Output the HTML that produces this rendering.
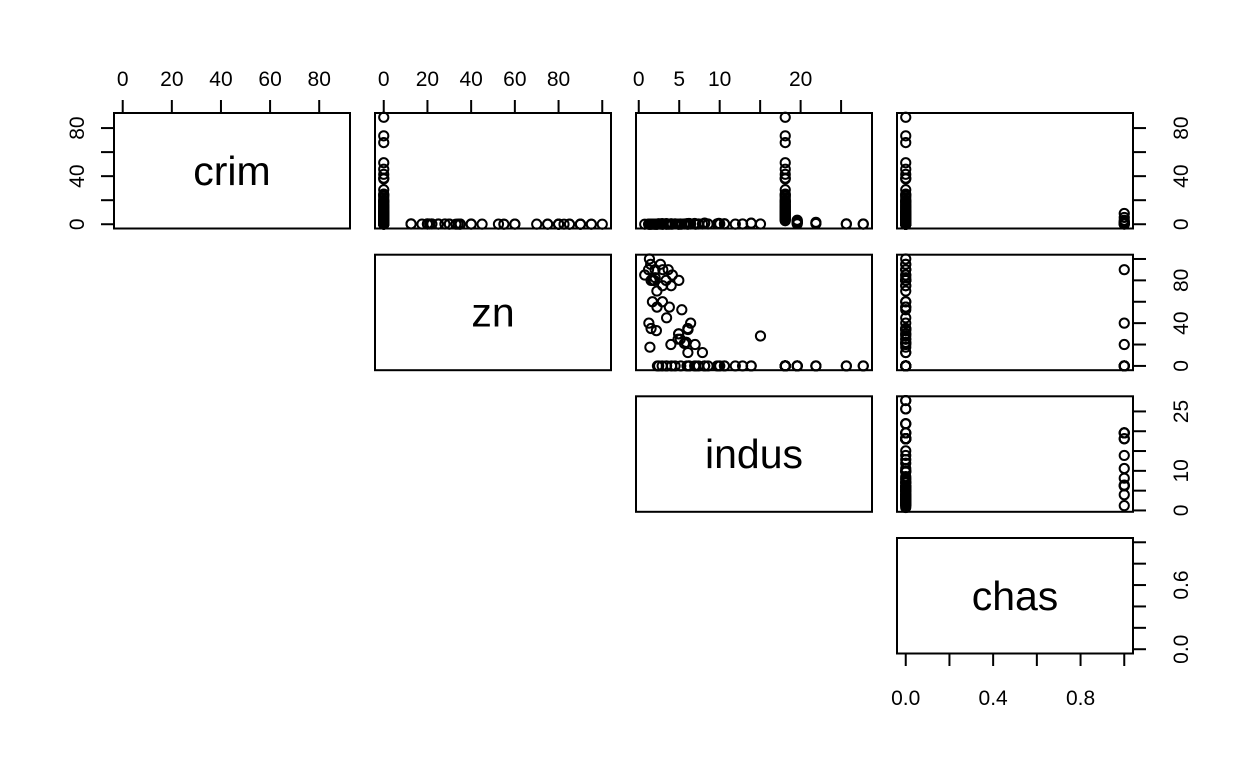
<!DOCTYPE html>
<html><head><meta charset="utf-8"><style>
html,body{margin:0;padding:0;background:#fff;}
svg{display:block;font-family:"Liberation Sans",Arial,sans-serif;}
</style></head><body>
<svg id="chart" width="1248" height="768" xmlns="http://www.w3.org/2000/svg"></svg>
<script>
const varNames = ["crim","zn","indus","chas"];
const crim = [0.01,0.02,0.03,0.04,0.02,0.01,0.06,0.03,0.05,0.02,0.04,0.08,0.09,0.04,0.06,0.13,0.1,0.05,0.03,0.08,0.07,0.04,0.08,0.06,0.1,0.05,0.15,0.19,0.18,0.12,0.25,0.2,0.11,0.14,0.21,0.33,0.03,0.02,0.17,0.1,
0.4,0.5,0.3,0.1,0.6,0.9,0.2,0.7,0.3,0.4,0.1,0.2,0.8,0.5,0.05,0.03,0.2,0.3,0.6,0.4,0.3,0.2,2.9,1.8,1.4,0.9,1.6,0.8,0.6,0.2,0.3,0.1,0.2,
88.98,73.53,67.92,51.14,45.75,41.53,38.35,37.66,28.66,25.05,24.39,23.65,22.05,20.08,19.61,18.81,18.5,17.87,16.81,15.87,15.58,14.33,14.05,13.52,12.25,11.95,11.11,10.84,10.23,9.92,9.34,8.79,8.27,7.99,7.67,7.05,6.65,5.87,5.82,5.44,4.87,4.42,3.69,3.67,2.92,
0.06,0.3,0.2,0.5,0.45,0.6,0.2,0.9,8.98,5.66,3.32,2.01,1.51,0.3];
const zn = [100,95,95,90,90,85,85,82.5,80,80,80,80,75,75,70,60,60,55,55,52.5,45,40,35,35,34,33,30,28,25,25,22,21,20,17.5,12.5,12.5,80,90,22,30,
0,0,0,0,0,0,0,0,0,0,0,0,0,0,0,0,0,0,0,0,0,0,0,0,0,0,0,0,0,0,0,0,0,
0,0,0,0,0,0,0,0,0,0,0,0,0,0,0,0,0,0,0,0,0,0,0,0,0,0,0,0,0,0,0,0,0,0,0,0,0,0,0,0,0,0,0,0,0,
90,20,40,0,0,0,0,0,0,0,0,0,0,0];
const indus = [1.32,2.68,1.47,2.02,3.64,0.74,4.15,2.03,1.52,3.37,1.76,4.95,2.95,4.0,2.24,1.69,2.93,2.25,3.78,5.32,3.44,1.25,1.52,6.06,6.09,2.18,4.93,15.04,5.13,4.86,5.86,5.64,6.96,1.38,7.87,6.07,1.91,2.97,5.86,4.93,
2.46,3.41,4.05,5.19,6.2,8.14,8.56,9.9,10.01,10.59,11.93,12.83,13.89,2.89,2.31,7.07,7.38,9.69,6.91,5.96,4.49,3.44,19.58,19.58,19.58,19.58,21.89,21.89,21.89,25.65,25.65,27.74,27.74,
18.1,18.1,18.1,18.1,18.1,18.1,18.1,18.1,18.1,18.1,18.1,18.1,18.1,18.1,18.1,18.1,18.1,18.1,18.1,18.1,18.1,18.1,18.1,18.1,18.1,18.1,18.1,18.1,18.1,18.1,18.1,18.1,18.1,18.1,18.1,18.1,18.1,18.1,18.1,18.1,18.1,18.1,18.1,18.1,18.1,
1.21,3.97,6.41,6.2,6.2,8.14,10.59,13.89,18.1,18.1,19.58,19.58,19.58,19.58];
const chas = crim.map((_, i) => i >= crim.length - 14 ? 1 : 0);
const tickVals = [[0,20,40,60,80],[0,20,40,60,80,100],[0,5,10,15,20,25],[0,0.2,0.4,0.6,0.8,1.0]];
const tickLabelsX = [["0","20","40","60","80"],["0","20","40","60","80",""],["0","5","10","","20",""],["0.0","","0.4","","0.8",""]];
const tickLabelsY = [["0","","40","","80"],["0","","40","","80",""],["0","","10","","","25"],["0.0","","","0.6","",""]];

const series = [crim, zn, indus, chas];
const NS = "http://www.w3.org/2000/svg";
const svg = document.getElementById("chart");
const colL = [114,375,636,897], W = 236;
const rowT = [113,254.7,396.3,538], H = 115.5;
function mk(tag, attrs, parent){ const e=document.createElementNS(NS,tag); for(const k in attrs) e.setAttribute(k,attrs[k]); (parent||svg).appendChild(e); return e; }
function dom(v){ const a=Math.min(...v), b=Math.max(...v), r=b-a; return [a-0.04*r, b+0.04*r]; }
const doms = series.map(dom);
function xs(j, v){ const d=doms[j]; return colL[j] + (v-d[0])/(d[1]-d[0])*W; }
function ys(i, v){ const d=doms[i]; return rowT[i] + H - (v-d[0])/(d[1]-d[0])*H; }

for(let i=0;i<4;i++){
  for(let j=i;j<4;j++){
    const g = mk("g",{});
    
    
    if(i===j){
      const t = mk("text",{x:colL[j]+W/2, y:rowT[i]+H/2+14, "text-anchor":"middle","font-size":"41"}, g);
      t.textContent = varNames[i];
      
      
    } else {
      const xv = series[j], yv = series[i];
      for(let k=0;k<xv.length;k++){
        const c = mk("circle",{cx:xs(j,xv[k]), cy:ys(i,yv[k]), r:4.6, fill:"none", stroke:"#000","stroke-width":2}, g);
        
        
      }
    }
    const b = mk("rect",{x:colL[j], y:rowT[i], width:W, height:H, fill:"none", stroke:"#000","stroke-width":2}, g);
    
    
  }
}
for(let j=0;j<4;j++){
  const top = j<3;
  const g = mk("g",{});
  
  
  tickVals[j].forEach((v,k)=>{
    const x = xs(j,v);
    if(top){ mk("line",{x1:x,x2:x,y1:113,y2:100,stroke:"#000","stroke-width":2},g); }
    else { mk("line",{x1:x,x2:x,y1:653.5,y2:666,stroke:"#000","stroke-width":2},g); }
    if(tickLabelsX[j][k]){
      const t = mk("text",{x:x, y: top?86:705, "text-anchor":"middle","font-size":"21"}, g);
      t.textContent = tickLabelsX[j][k];
      
      
    }
  });
}
for(let i=0;i<4;i++){
  const sides = i===0 ? ["left","right"] : ["right"];
  sides.forEach(side=>{
    const g = mk("g",{});
    
    
    tickVals[i].forEach((v,k)=>{
      const y = ys(i,v);
      if(side==="left"){ mk("line",{x1:114,x2:101,y1:y,y2:y,stroke:"#000","stroke-width":2},g); }
      else { mk("line",{x1:1133,x2:1146,y1:y,y2:y,stroke:"#000","stroke-width":2},g); }
      if(tickLabelsY[i][k]){
        const tx = side==="left"?84:1188;
        const t = mk("text",{x:tx, y:y, "text-anchor":"middle","font-size":"21", transform:"rotate(-90 "+tx+" "+y+")"}, g);
        t.textContent = tickLabelsY[i][k];
        
        
      }
    });
  });
}
</script>
</body></html>
